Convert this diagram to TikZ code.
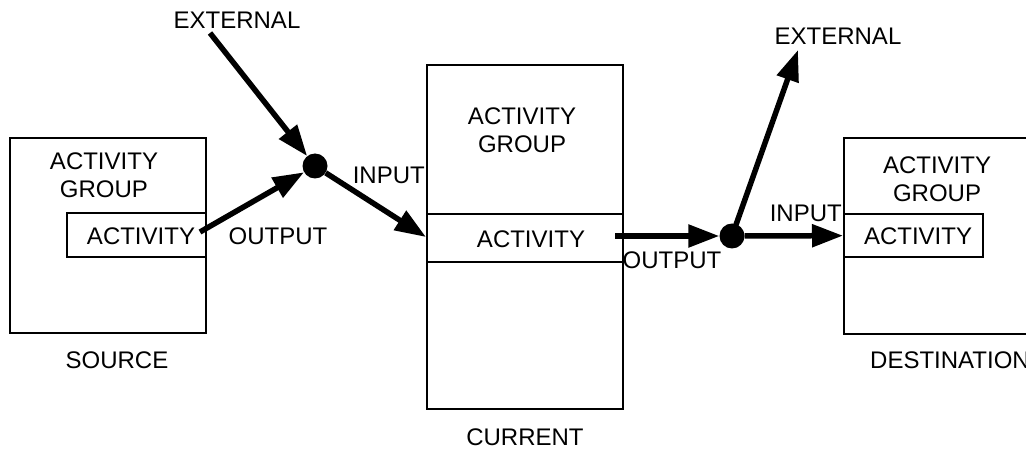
\documentclass[tikz,border=0pt]{standalone}
\usepackage{fontspec}
\setmainfont{Liberation Sans}
\usetikzlibrary{arrows.meta}
\tikzset{
  box/.style={draw, line width=2.3pt, anchor=north west, inner sep=0pt},
  lbl/.style={inner sep=0pt, font=\fontsize{24}{27.5}\selectfont, align=center},
  flow/.style={line width=5.5pt, -{Triangle[length=31pt,width=22pt]}},
  junction/.style={circle, fill=black, minimum size=25pt, inner sep=0pt},
}
\begin{document}
\begin{tikzpicture}[x=1pt,y=-1pt]
\clip (0,0) rectangle (1026,449);
% source
\node[box, minimum width=196pt, minimum height=195pt] (src) at (9,137) {};
\node[box, minimum width=139pt, minimum height=44pt] (srcact) at (66,212) {};
\node[lbl] (srcgrp) at (104,175) {ACTIVITY\\GROUP};
\node[lbl] (srcacttxt) at (141,236) {ACTIVITY};
\node[lbl] (srclbl) at (117,360) {SOURCE};
% current
\node[box, minimum width=196pt, minimum height=344pt] (cur) at (426,64) {};
\node[box, minimum width=196pt, minimum height=48pt] (curact) at (426,213) {};
\node[lbl] (curgrp) at (522,130) {ACTIVITY\\GROUP};
\node[lbl] (curacttxt) at (531,239) {ACTIVITY};
\node[lbl] (curlbl) at (525,437) {CURRENT};
% destination
\node[box, minimum width=200pt, minimum height=196pt] (dst) at (843,137) {};
\node[box, minimum width=139pt, minimum height=43pt] (dstact) at (843,213) {};
\node[lbl] (dstgrp) at (937,179) {ACTIVITY\\GROUP};
\node[lbl] (dstacttxt) at (918,236) {ACTIVITY};
\node[lbl, anchor=west] (dstlbl) at (870,360) {DESTINATION};
% junctions
\node[junction] (j1) at (315,166) {};
\node[junction] (j2) at (732,236) {};
% labels
\node[lbl] (ext1) at (237,20) {EXTERNAL};
\node[lbl] (ext2) at (838,36) {EXTERNAL};
\node[lbl] (out1) at (278,236) {OUTPUT};
\node[lbl, anchor=east] (in1) at (425,175) {INPUT};
\node[lbl] (out2) at (672,260) {OUTPUT};
\node[lbl, anchor=east] (in2) at (842,213) {INPUT};
% connector end points
\coordinate (s1) at (200,232);
\coordinate (e1) at (210,33);
\coordinate (s2) at (615,236);
\coordinate (e2) at (798,50);
\coordinate (curin) at (426,237);
% connectors
\draw[flow] (s1) -- (j1);
\draw[flow] (e1) -- (j1);
\draw[flow] (j1) -- (curin);
\draw[flow] (s2) -- (j2);
\draw[flow] (j2) -- (dstact.west);
\draw[flow] (j2.center) -- (e2);
\end{tikzpicture}
\end{document}
